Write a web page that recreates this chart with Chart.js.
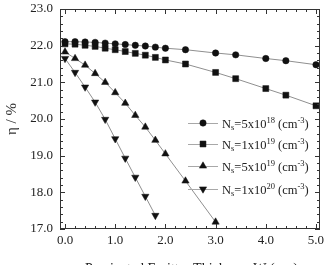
<!DOCTYPE html>
<html>
<head>
<meta charset="utf-8">
<script src="https://cdn.jsdelivr.net/npm/chart.js@4"></script>
<style>
  html, body { margin: 0; padding: 0; background: #fff; overflow: hidden; }
  #wrap { width: 325px; height: 265px; overflow: hidden; }
</style>
</head>
<body>
<div id="wrap"><canvas id="chart" width="335" height="290"></canvas></div>
<script>
// Data
var xCircle   = [0, 0.2, 0.4, 0.6, 0.8, 1.0, 1.2, 1.4, 1.6, 1.8, 2.0, 2.4, 3.0, 3.4, 4.0, 4.4, 5.0];
var yCircle   = [22.11, 22.11, 22.10, 22.09, 22.07, 22.05, 22.03, 22.01, 21.99, 21.96, 21.93, 21.89, 21.80, 21.75, 21.65, 21.59, 21.48];
var xSquare   = [0, 0.2, 0.4, 0.6, 0.8, 1.0, 1.2, 1.4, 1.6, 1.8, 2.0, 2.4, 3.0, 3.4, 4.0, 4.4, 5.0];
var ySquare   = [22.05, 22.04, 22.01, 21.98, 21.93, 21.89, 21.84, 21.79, 21.74, 21.68, 21.61, 21.50, 21.27, 21.10, 20.83, 20.65, 20.36];
var xTriUp    = [0, 0.2, 0.4, 0.6, 0.8, 1.0, 1.2, 1.4, 1.6, 1.8, 2.0, 2.4, 3.0];
var yTriUp    = [21.83, 21.65, 21.47, 21.24, 21.00, 20.72, 20.43, 20.10, 19.78, 19.42, 19.05, 18.31, 17.19];
var xTriDown  = [0, 0.2, 0.4, 0.6, 0.8, 1.0, 1.2, 1.4, 1.6, 1.8];
var yTriDown  = [21.65, 21.27, 20.87, 20.46, 19.99, 19.46, 18.93, 18.41, 17.89, 17.37];

// legend pieces: mantissa, exponent
var legendMant = ["5", "1", "5", "1"];
var legendExp  = ["18", "19", "19", "20"];

var xTitle = "Passivated Emitter Thickness W (\u03bcm)";
var yTitle = "\u03b7 / %";

var serif = "'Liberation Serif', 'Times New Roman', serif";

function pts(xs, ys) {
  var out = [];
  for (var i = 0; i < xs.length; i++) out.push({ x: xs[i], y: ys[i] });
  return out;
}

function makeSet(xs, ys, style, radius, rot) {
  return {
    data: pts(xs, ys),
    showLine: true,
    borderColor: "#8f8f8f",
    borderWidth: 1,
    pointStyle: style,
    pointRadius: radius,
    pointRotation: rot,
    pointBackgroundColor: "#111",
    pointBorderColor: "#111",
    pointBorderWidth: 0.5
  };
}

// frame, inward ticks, legend and the cut-off x title
var extras = {
  id: "extras",
  afterDatasetsDraw: function (chart) {
    var ctx = chart.ctx;
    var a = chart.chartArea;
    var xs = chart.scales.x, ys = chart.scales.y;
    var v, p, major;

    ctx.save();
    ctx.strokeStyle = "#333";
    ctx.lineWidth = 1;
    ctx.strokeRect(a.left + 0.5, a.top + 0.5, a.right - a.left - 1, a.bottom - a.top - 1);

    ctx.beginPath();
    for (var i = 0; i <= 25; i++) {
      v = i * 0.2;
      p = Math.round(xs.getPixelForValue(v)) + 0.5;
      major = i % 5 === 0;
      var lx = major ? 5 : 3;
      ctx.moveTo(p, a.bottom); ctx.lineTo(p, a.bottom - lx);
      ctx.moveTo(p, a.top); ctx.lineTo(p, a.top + lx);
    }
    for (var j = 0; j <= 30; j++) {
      v = 17 + j * 0.2;
      p = Math.round(ys.getPixelForValue(v)) + 0.5;
      major = j % 5 === 0;
      var ly = major ? 5 : 3;
      ctx.moveTo(a.left, p); ctx.lineTo(a.left + ly, p);
      ctx.moveTo(a.right, p); ctx.lineTo(a.right - ly, p);
    }
    ctx.stroke();

    // legend
    var rows = [123, 144, 166, 189];
    for (var k = 0; k < chart.data.datasets.length; k++) {
      var ds = chart.data.datasets[k];
      var y = rows[k];
      ctx.strokeStyle = "#a8a8a8";
      ctx.beginPath();
      ctx.moveTo(188, y + 0.5); ctx.lineTo(218, y + 0.5);
      ctx.stroke();
      ctx.fillStyle = "#111";
      ctx.strokeStyle = "#111";
      ctx.lineWidth = 0.5;
      Chart.helpers.drawPoint(ctx, {
        pointStyle: ds.pointStyle, radius: ds.pointRadius,
        rotation: ds.pointRotation, borderWidth: 0.5
      }, 203, y);
      ctx.lineWidth = 1;

      var tx = 222;
      ctx.fillStyle = "#222";
      ctx.textAlign = "left";
      ctx.textBaseline = "alphabetic";
      var base = y + 4.5;
      ctx.font = "12.5px " + serif;
      ctx.fillText("N", tx, base); tx += ctx.measureText("N").width;
      ctx.font = "8.5px " + serif;
      ctx.fillText("s", tx, base + 2); tx += ctx.measureText("s").width;
      ctx.font = "12.5px " + serif;
      var s1 = "=" + legendMant[k] + "x10";
      ctx.fillText(s1, tx, base); tx += ctx.measureText(s1).width;
      ctx.font = "8.5px " + serif;
      ctx.fillText(legendExp[k], tx, base - 5); tx += ctx.measureText(legendExp[k]).width;
      ctx.font = "12.5px " + serif;
      ctx.fillText(" (cm", tx, base); tx += ctx.measureText(" (cm").width;
      ctx.font = "8.5px " + serif;
      ctx.fillText("-3", tx, base - 5); tx += ctx.measureText("-3").width;
      ctx.font = "12.5px " + serif;
      ctx.fillText(")", tx, base);
    }

    // x title, mostly below the visible window as in the source
    ctx.font = "14px " + serif;
    ctx.fillStyle = "#222";
    ctx.fillText(xTitle, 85, 273);
    ctx.restore();
  }
};

new Chart(document.getElementById("chart"), {
  type: "scatter",
  data: {
    datasets: [
      makeSet(xCircle, yCircle, "circle", 3.2, 0),
      makeSet(xSquare, ySquare, "rect", 4.2, 0),
      makeSet(xTriUp, yTriUp, "triangle", 4.2, 0),
      makeSet(xTriDown, yTriDown, "triangle", 4.2, 180)
    ]
  },
  options: {
    responsive: false,
    animation: false,
    layout: { padding: { top: 9, right: 15, bottom: 0, left: 0 } },
    plugins: { legend: { display: false }, tooltip: { enabled: false } },
    scales: {
      x: {
        type: "linear",
        min: -0.1,
        max: 5.08,
        afterFit: function (s) { s.height = 61; },
        grid: { display: false, drawTicks: false },
        border: { display: false },
        ticks: {
          stepSize: 1,
          includeBounds: false,
          padding: 4,
          color: "#222",
          font: { family: serif, size: 13 },
          callback: function (v) { return Number(v).toFixed(1); }
        }
      },
      y: {
        min: 17,
        max: 23,
        afterFit: function (s) {
          s.width = 60;
          s.paddingTop = 0;
          s.paddingBottom = 0;
        },
        grid: { display: false, drawTicks: false },
        border: { display: false },
        title: {
          display: true,
          text: yTitle,
          color: "#333",
          font: { family: serif, size: 15 },
          padding: { top: 3, bottom: 0 }
        },
        ticks: {
          stepSize: 1,
          padding: 7,
          color: "#222",
          font: { family: serif, size: 13 },
          callback: function (v) { return Number(v).toFixed(1); }
        }
      }
    }
  },
  plugins: [extras]
});
</script>
</body>
</html>
